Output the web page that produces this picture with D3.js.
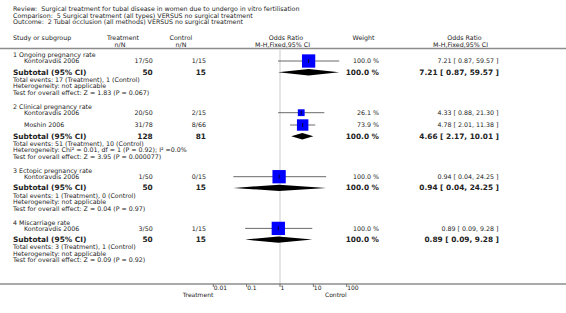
<!doctype html>
<html lang="en">
<head>
	<meta charset="UTF-8">
	<title>Forest plot</title>
	<style>
		body {
			margin: 0;
			background: #fff;
		}

		svg text {
			font-family: "DejaVu Sans", Verdana, sans-serif;
			font-size: 6.3px;
			fill: #222;
			white-space: pre;
		}

		.bold {
			font-weight: bold;
			font-size: 7.4px;
		}
	</style>
</head>
<body>
	<script src="https://cdn.jsdelivr.net/npm/d3@7"></script>
	<script>
		var titleLines = [
			'Review:  Surgical treatment for tubal disease in women due to undergo in vitro fertilisation',
			'Comparison:  5 Surgical treatment (all types) VERSUS no surgical treatment',
			'Outcome:  2 Tubal occlusion (all methods) VERSUS no surgical treatment'
		];

		var groupNames = ['1 Ongoing pregnancy rate', '2 Clinical pregnancy rate', '3 Ectopic pregnancy rate', '4 Miscarriage rate'];

		// one entry per study
		var studyGroup = [0, 1, 1, 2, 3];
		var studyNames = ['Kontoravdis 2006', 'Kontoravdis 2006', 'Moshin 2006', 'Kontoravdis 2006', 'Kontoravdis 2006'];
		var studyTreatment = ['17/50', '20/50', '31/78', '1/50', '3/50'];
		var studyControl = ['1/15', '2/15', '8/66', '0/15', '1/15'];
		var studyWeight = [100, 26.1, 73.9, 100, 100];
		var studyOR = [7.21, 4.33, 4.78, 0.94, 0.89];
		var studyLow = [0.87, 0.88, 2.01, 0.04, 0.09];
		var studyHigh = [59.57, 21.30, 11.38, 24.25, 9.28];

		// one entry per subgroup
		var subTreatmentN = [50, 128, 50, 50];
		var subControlN = [15, 81, 15, 15];
		var subOR = [7.21, 4.66, 0.94, 0.89];
		var subLow = [0.87, 2.17, 0.04, 0.09];
		var subHigh = [59.57, 10.01, 24.25, 9.28];
		var totalEvents = [
			'Total events: 17 (Treatment), 1 (Control)',
			'Total events: 51 (Treatment), 10 (Control)',
			'Total events: 1 (Treatment), 0 (Control)',
			'Total events: 3 (Treatment), 1 (Control)'
		];
		var heterogeneity = [
			'Heterogeneity: not applicable',
			'Heterogeneity: Chi² = 0.01, df = 1 (P = 0.92); I² =0.0%',
			'Heterogeneity: not applicable',
			'Heterogeneity: not applicable'
		];
		var overallEffect = [
			'Test for overall effect: Z = 1.83 (P = 0.067)',
			'Test for overall effect: Z = 3.95 (P = 0.000077)',
			'Test for overall effect: Z = 0.04 (P = 0.97)',
			'Test for overall effect: Z = 0.09 (P = 0.92)'
		];

		var axisTicks = [0.01, 0.1, 1, 10, 100];

		var w = 566,
			h = 313,
			headY = 48.5,
			axisY = 284;

		var svg = d3.select('body')
			.append('svg')
			.attr('width', w)
			.attr('height', h);

		var xScale = d3.scaleLog()
			.domain([0.01, 100])
			.range([213.3, 346.7]);

		/**
		* add a text line
		* @returns {selection}
		*/
		var addText = function(x, y, str, anchor, cls) {
			return svg.append('text')
				.attr('x', x)
				.attr('y', y)
				.attr('dy', '0.35em')
				.attr('text-anchor', anchor || 'start')
				.attr('class', cls || null)
				.text(str);
		};

		var ciText = function(or, lo, hi) {
			return or.toFixed(2) + ' [ ' + lo.toFixed(2) + ', ' + hi.toFixed(2) + ' ]';
		};

		/**
		* title and column headers
		*/
		var drawHeader = function() {
			titleLines.forEach(function(t, i) {
				addText(13, 8.5 + i * 6.8, t);
			});
			addText(13, 38, 'Study or subgroup');
			addText(123, 38, 'Treatment', 'middle');
			addText(120, 44.5, 'n/N', 'middle');
			addText(181, 38, 'Control', 'middle');
			addText(181, 44.5, 'n/N', 'middle');
			addText(286, 38, 'Odds Ratio', 'middle');
			addText(282.5, 44.5, 'M-H,Fixed,95% CI', 'middle');
			addText(363.5, 38, 'Weight', 'middle');
			addText(464.5, 38, 'Odds Ratio', 'middle');
			addText(460.5, 44.5, 'M-H,Fixed,95% CI', 'middle');

			svg.append('line')
				.attr('x1', 0).attr('x2', w)
				.attr('y1', headY).attr('y2', headY)
				.attr('stroke', '#8c8c8c')
				.attr('stroke-width', 1.3);

			// line of no effect
			svg.append('line')
				.attr('x1', xScale(1)).attr('x2', xScale(1))
				.attr('y1', headY + 0.6).attr('y2', axisY)
				.attr('stroke', '#dcdcdc')
				.attr('stroke-width', 1.5);
		};

		/**
		* draw one study row
		*/
		var drawStudy = function(i, y) {
			addText(24, y, studyNames[i]);
			addText(152.7, y, studyTreatment[i], 'end');
			addText(206, y, studyControl[i], 'end');
			addText(379, y, studyWeight[i].toFixed(1) + ' %', 'end');
			addText(498.5, y, ciText(studyOR[i], studyLow[i], studyHigh[i]), 'end');

			svg.append('line')
				.attr('x1', xScale(studyLow[i])).attr('x2', xScale(studyHigh[i]))
				.attr('y1', y).attr('y2', y)
				.attr('stroke', '#444')
				.attr('stroke-width', 0.8);

			var side = 13.3 * Math.sqrt(studyWeight[i] / 100);
			svg.append('rect')
				.attr('x', xScale(studyOR[i]) - side / 2)
				.attr('y', y - side / 2)
				.attr('width', side)
				.attr('height', side)
				.attr('fill', '#0000ff');

			svg.append('line')
				.attr('x1', xScale(studyOR[i])).attr('x2', xScale(studyOR[i]))
				.attr('y1', y - 2).attr('y2', y + 2)
				.attr('stroke', '#000')
				.attr('stroke-width', 0.8);
		};

		/**
		* draw subgroups
		*/
		var drawGroups = function() {
			var y = 55;
			groupNames.forEach(function(g, gi) {
				addText(13, y, g);
				var rows = d3.range(studyNames.length).filter(function(i) {
					return studyGroup[i] === gi;
				});
				y += 6;
				rows.forEach(function(i, k) {
					if (k > 0) {
						y += 12.3;
					}
					drawStudy(i, y);
				});

				y += 11.2;
				addText(13, y, 'Subtotal (95% CI)', 'start', 'bold');
				addText(152.7, y, subTreatmentN[gi], 'end', 'bold');
				addText(206, y, subControlN[gi], 'end', 'bold');
				addText(379, y, '100.0 %', 'end', 'bold');
				addText(499, y, ciText(subOR[gi], subLow[gi], subHigh[gi]), 'end', 'bold');

				var d = 3.2;
				svg.append('path')
					.attr('d', 'M' + xScale(subLow[gi]) + ',' + y +
						'L' + xScale(subOR[gi]) + ',' + (y - d) +
						'L' + xScale(subHigh[gi]) + ',' + y +
						'L' + xScale(subOR[gi]) + ',' + (y + d) + 'Z')
					.attr('fill', '#000');

				y += 7.4;
				addText(13, y, totalEvents[gi]);
				y += 6.6;
				addText(13, y, heterogeneity[gi]);
				y += 6.4;
				addText(13, y, overallEffect[gi]);
				y += 14.1;
			});
		};

		/**
		* bottom axis
		*/
		var drawAxis = function() {
			svg.append('line')
				.attr('x1', 0).attr('x2', w)
				.attr('y1', axisY).attr('y2', axisY)
				.attr('stroke', '#555')
				.attr('stroke-width', 1.2);

			svg.selectAll('.tick')
				.data(axisTicks)
				.enter()
				.append('line')
				.attr('class', 'tick')
				.attr('x1', function(d) { return xScale(d); })
				.attr('x2', function(d) { return xScale(d); })
				.attr('y1', axisY)
				.attr('y2', axisY + 3)
				.attr('stroke', '#555')
				.attr('stroke-width', 0.8);

			axisTicks.forEach(function(d) {
				addText(xScale(d) + 0.5, axisY + 4, d3.format('~g')(d)).style('font-size', '6px');
			});

			addText(xScale(0.01), axisY + 10.5, 'Treatment', 'end').style('font-size', '6px');
			addText(xScale(100), axisY + 10.5, 'Control', 'end').style('font-size', '6px');
		};

		drawHeader();
		drawGroups();
		drawAxis();
	</script>
</body>
</html>
